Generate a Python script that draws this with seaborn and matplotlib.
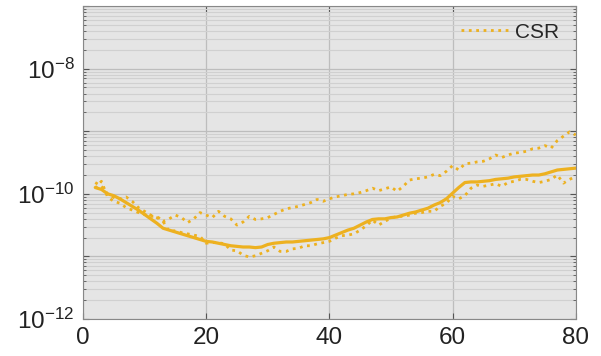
import numpy as np
import pandas as pd
import seaborn as sns
import matplotlib.pyplot as plt
from matplotlib.ticker import LogLocator, NullFormatter, FixedLocator, FixedFormatter

# x positions (iteration index) and log10 of the error
iters = list(range(2, 81))

log_mean = [-9.90, -9.93, -10.00, -10.03, -10.08, -10.14, -10.20, -10.26, -10.33, -10.40,
            -10.47, -10.55, -10.58, -10.61, -10.64, -10.67, -10.70, -10.73, -10.76, -10.77,
            -10.79, -10.81, -10.83, -10.84, -10.85, -10.85, -10.86, -10.85, -10.81, -10.79,
            -10.78, -10.77, -10.77, -10.76, -10.75, -10.74, -10.73, -10.72, -10.70, -10.66,
            -10.62, -10.58, -10.55, -10.50, -10.45, -10.41, -10.40, -10.40, -10.38, -10.37,
            -10.34, -10.31, -10.29, -10.26, -10.23, -10.18, -10.14, -10.08, -9.99, -9.90,
            -9.82, -9.81, -9.81, -9.80, -9.79, -9.77, -9.76, -9.75, -9.73, -9.72,
            -9.71, -9.70, -9.70, -9.68, -9.65, -9.62, -9.61, -9.60, -9.59]

log_upper = [-9.82, -9.88, -10.00, -10.06, -10.08, -10.05, -10.12, -10.22, -10.28, -10.34,
             -10.38, -10.44, -10.40, -10.34, -10.38, -10.46, -10.40, -10.30, -10.34, -10.38,
             -10.28, -10.36, -10.40, -10.50, -10.45, -10.36, -10.41, -10.40, -10.38, -10.33,
             -10.28, -10.24, -10.22, -10.20, -10.17, -10.14, -10.09, -10.12, -10.08, -10.05,
             -10.03, -10.01, -10.00, -9.98, -9.95, -9.91, -9.95, -9.92, -9.89, -9.96,
             -9.88, -9.78, -9.76, -9.75, -9.73, -9.69, -9.71, -9.64, -9.55, -9.62,
             -9.52, -9.51, -9.49, -9.48, -9.44, -9.38, -9.42, -9.38, -9.35, -9.34,
             -9.32, -9.28, -9.27, -9.23, -9.27, -9.15, -9.08, -9.01, -9.06]

log_lower = [-9.91, -9.80, -10.05, -10.12, -10.15, -10.22, -10.26, -10.30, -10.33, -10.36,
             -10.36, -10.44, -10.60, -10.59, -10.62, -10.64, -10.66, -10.68, -10.79, -10.78,
             -10.78, -10.80, -10.90, -10.91, -10.98, -11.01, -10.99, -10.95, -10.91, -10.85,
             -10.92, -10.92, -10.88, -10.87, -10.83, -10.83, -10.80, -10.78, -10.76, -10.71,
             -10.67, -10.66, -10.64, -10.58, -10.51, -10.42, -10.50, -10.44, -10.39, -10.36,
             -10.36, -10.34, -10.31, -10.30, -10.28, -10.28, -10.20, -10.15, -10.04, -10.08,
             -10.03, -9.91, -9.86, -9.88, -9.86, -9.84, -9.88, -9.82, -9.80, -9.77,
             -9.77, -9.80, -9.82, -9.80, -9.77, -9.70, -9.83, -9.77, -9.72]

df = pd.DataFrame({"iter": iters,
                   "mean": 10.0 ** np.array(log_mean),
                   "upper": 10.0 ** np.array(log_upper),
                   "lower": 10.0 ** np.array(log_lower)})

sns.set_style("ticks")
plt.rcParams["font.family"] = ["Liberation Sans", "DejaVu Sans"]
plt.rcParams["mathtext.default"] = "regular"

color = "#EDB120"

fig = plt.figure(figsize=(6.01, 3.56), dpi=100)
ax = fig.add_axes([0.138, 0.104, 0.820, 0.879])
ax.set_facecolor("#e5e5e5")

sns.lineplot(data=df, x="iter", y="upper", ax=ax, color=color, linestyle=":",
             linewidth=2.0, label="CSR")
sns.lineplot(data=df, x="iter", y="lower", ax=ax, color=color, linestyle=":",
             linewidth=2.0, label="_nolegend_")
sns.lineplot(data=df, x="iter", y="mean", ax=ax, color=color, linestyle="-",
             linewidth=2.3, label="_nolegend_")

ax.set_yscale("log")
ax.set_xlim(0, 80)
ax.set_ylim(1e-12, 1e-7)
ax.set_xticks([0, 20, 40, 60, 80])

decades = [1e-12, 1e-11, 1e-10, 1e-9, 1e-8, 1e-7]
ax.yaxis.set_major_locator(FixedLocator(decades))
ax.yaxis.set_major_formatter(FixedFormatter(["$10^{-12}$", "", "$10^{-10}$", "", "$10^{-8}$", ""]))
ax.yaxis.set_minor_locator(LogLocator(base=10, subs=np.arange(2, 10), numticks=20))
ax.yaxis.set_minor_formatter(NullFormatter())

ax.grid(True, which="major", color="#bdbdbd", linewidth=0.9)
ax.grid(True, which="minor", axis="y", color="#d0d0d0", linewidth=0.8)
ax.set_axisbelow(True)

ax.tick_params(which="both", direction="in", top=True, right=True, colors="#555555",
               labelcolor="#222222", labelsize=17.5, pad=6)
ax.tick_params(which="major", length=4)
ax.tick_params(which="minor", length=2)
for s in ax.spines.values():
    s.set_color("#888888")
    s.set_linewidth(0.8)

ax.set_xlabel("")
ax.set_ylabel("")
ax.legend(loc="upper right", frameon=False, fontsize=15, handlelength=2.4,
          handletextpad=0.2, borderaxespad=0.4)

fig.savefig("out.png", dpi=100)
